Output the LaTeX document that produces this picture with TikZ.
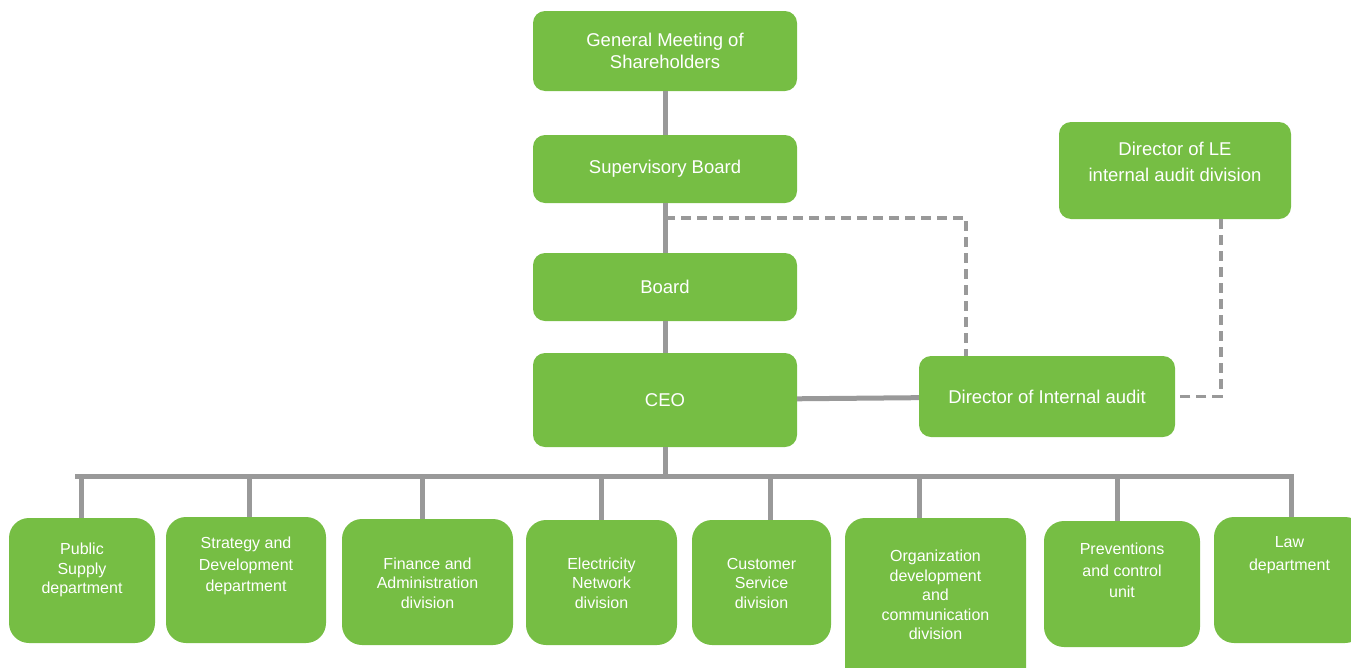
\documentclass[tikz,border=0pt]{standalone}
\usepackage{fontspec}
\setmainfont{Liberation Sans}
\usepackage{tikz}
\usetikzlibrary{calc}
\definecolor{G}{RGB}{118,190,68}
\definecolor{K}{RGB}{153,153,153}
\tikzset{
  unit/.style={fill=G, draw=none, rounded corners=12pt, inner sep=0pt},
  unittext/.style={text=white, align=center, inner sep=0pt, font=\fontsize{18.5}{22}\selectfont},
  low/.style={rounded corners=20pt, font=\fontsize{16}{19.5}\selectfont},
  link/.style={draw=K, line width=5pt},
  dotlink/.style={draw=K, line width=3.5pt, dash pattern=on 10pt off 6pt}
}
% #2 name, #3 #4 centre, #5 #6 size, #7 text y, #8 text
\newcommand{\unitbox}[8][]{
  \node[unit, #1, minimum width=#5pt, minimum height=#6pt] (#2) at (#3,#4) {};
  \node[unittext, #1] (#2-t) at (#3,#7) {#8};
}

\begin{document}
\begin{tikzpicture}[x=1pt,y=-1pt]
\useasboundingbox (0,0) rectangle (1351,667);
% management
\unitbox{gms}{665}{51}{264}{80}{51}{General Meeting of\\Shareholders}
\unitbox{sup}{665}{169}{264}{68}{169}{Supervisory Board}
\unitbox{brd}{665}{287}{264}{68}{287}{Board}
\unitbox{ceo}{665}{400}{264}{94}{400}{CEO}
\unitbox{dia}{1047}{396.5}{256}{81}{397}{Director of Internal audit}
\unitbox{dle}{1175}{170.5}{232}{97}{162}{Director of LE\\[4pt]internal audit division}
% departments
\unitbox[low]{pub}{82}{580.5}{146}{125}{570}{Public\\Supply\\department}
\unitbox[low]{str}{246}{580}{160}{126}{566}{Strategy and\\[2.5pt]Development\\[2pt]department}
\unitbox[low]{fin}{427.5}{582}{171}{126}{583}{Finance and\\Administration\\division}
\unitbox[low]{ele}{601.5}{582.5}{151}{125}{583}{Electricity\\Network\\division}
\unitbox[low]{cus}{761.5}{582.5}{139}{125}{583}{Customer\\Service\\division}
\unitbox[low]{org}{935.5}{609}{181}{182}{595}{Organization\\development\\and\\communication\\division}
\unitbox[low]{pre}{1122}{584}{156}{126}{570.5}{Preventions\\[2.5pt]and control\\[2pt]unit}
\unitbox[low]{law}{1289.5}{580}{151}{126}{555.5}{Law\\[3.5pt]department}
% lines
\draw[link] (gms) -- (sup);
\draw[link] (sup) -- (brd);
\draw[link] (brd) -- (ceo);
\draw[link] (ceo) -- (dia);
\coordinate (busL) at (75,476);
\draw[link] (ceo) -- (ceo.south |- busL);
\foreach \n/\x in {pub/81, str/249, fin/422, ele/601, cus/770, org/919, pre/1117, law/1291}
  \draw[link] (\n.north -| \x,0) |- (busL);
\coordinate (tap) at ($(sup.south)!0.3!(brd.north)$);
\draw[dotlink] (tap) -| ([xshift=-81pt]dia.north);
\draw[dotlink] ([xshift=46pt]dle.south) |- (dia.east);
\end{tikzpicture}
\end{document}
